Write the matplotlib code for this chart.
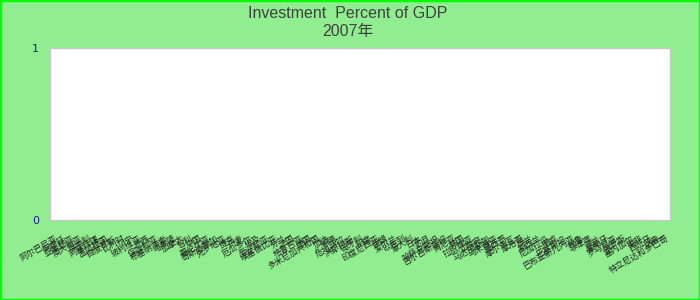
import numpy as np
import matplotlib
matplotlib.use("Agg")
import matplotlib.pyplot as plt
from matplotlib.patches import Rectangle

# categories (country names, Chinese) - the chart has no values for 2007
countries = [
    "阿尔巴尼亚", "阿根廷", "亚美尼亚", "澳大利亚", "奥地利", "阿塞拜疆", "孟加拉国",
    "白俄罗斯", "比利时", "贝宁", "玻利维亚", "巴西", "保加利亚", "布基纳法索",
    "喀麦隆", "加拿大", "智利", "中国", "哥伦比亚", "哥斯达黎加", "克罗地亚",
    "捷克", "丹麦", "厄瓜多尔", "埃及", "爱沙尼亚", "埃塞俄比亚", "芬兰", "法国",
    "格鲁吉亚", "德国", "多米尼加共和国", "加纳", "希腊", "危地马拉", "洪都拉斯",
    "匈牙利", "印度", "印度尼西亚", "伊朗", "爱尔兰", "以色列", "意大利", "日本",
    "约旦", "哈萨克斯坦", "吉尔吉斯斯坦", "肯尼亚", "韩国", "拉脱维亚", "立陶宛",
    "马达加斯加", "马来西亚", "墨西哥", "摩尔多瓦", "摩洛哥", "荷兰", "新西兰",
    "尼加拉瓜", "挪威", "巴基斯坦", "巴布亚新几内亚", "秘鲁", "菲律宾", "波兰",
    "葡萄牙", "罗马尼亚", "俄罗斯", "塞内加尔", "南非", "西班牙", "瑞典",
    "特立尼达和多巴哥",
]
investment_pct = [np.nan] * len(countries)
y_ticks = [0, 1]

title = "Investment  Percent of GDP\n2007年"

fig = plt.figure(figsize=(7, 3), dpi=100, facecolor="#90EE90")
ax = fig.add_axes([50 / 700, 80 / 300, 620 / 700, 172 / 300])
ax.set_facecolor("white")

x = np.arange(len(countries))
ax.bar(x, investment_pct, width=0.6, color="#4F81BD")
ax.set_xlim(-0.5, len(countries) - 0.5)
ax.set_ylim(0, 1)

ax.set_yticks(y_ticks)
ax.set_yticklabels([str(v) for v in y_ticks], color="#1A1AA0", fontsize=8,
                   family=["DejaVu Sans"])
ax.tick_params(axis="y", length=0, pad=8)

ax.set_xticks(x)
ax.set_xticklabels(countries, rotation=30, ha="right", rotation_mode="anchor",
                   fontsize=6, color="#222222",
                   family=["Noto Sans CJK SC", "DejaVu Sans"])
ax.tick_params(axis="x", length=0, pad=10)

for s in ax.spines.values():
    s.set_color("#C8C8C8")
    s.set_linewidth(1)

fig.text(0.497, 0.98, title, ha="center", va="top", fontsize=11.5,
         color="#404040", linespacing=1.25,
         family=["Liberation Sans", "Noto Sans CJK SC"])

# bright green frame round the figure
fig.patches.append(Rectangle((0, 0), 1, 1, transform=fig.transFigure,
                             fill=False, edgecolor="#00FF00", linewidth=2.5))

fig.savefig("out.png", dpi=100, facecolor=fig.get_facecolor())
